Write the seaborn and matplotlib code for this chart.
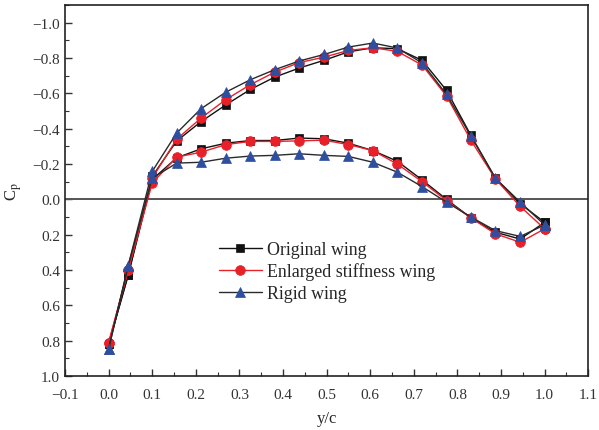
import matplotlib
matplotlib.use("Agg")
import matplotlib.pyplot as plt
from matplotlib.ticker import MultipleLocator, FuncFormatter
import seaborn as sns
import pandas as pd

# ---- data ----
wings = ["Original wing", "Enlarged stiffness wing", "Rigid wing"]
x_le = [0.0, 0.045]
x_surf = [0.1, 0.156, 0.212, 0.269, 0.325, 0.381, 0.437, 0.494, 0.55, 0.606,
          0.662, 0.719, 0.775, 0.831, 0.887, 0.944, 1.0]

orig_le = [0.82, 0.428]
orig_upper = [-0.13, -0.33, -0.44, -0.535, -0.622, -0.692, -0.743, -0.787, -0.835,
              -0.858, -0.853, -0.787, -0.617, -0.362, -0.12, 0.025, 0.13]
orig_lower = [-0.112, -0.235, -0.286, -0.318, -0.333, -0.333, -0.347, -0.343, -0.318,
              -0.276, -0.216, -0.11, 0.0, 0.105, 0.186, 0.225, 0.13]

enl_le = [0.813, 0.40]
enl_upper = [-0.12, -0.34, -0.46, -0.565, -0.649, -0.72, -0.774, -0.805, -0.843,
             -0.858, -0.838, -0.76, -0.585, -0.334, -0.116, 0.04, 0.167]
enl_lower = [-0.092, -0.239, -0.267, -0.31, -0.328, -0.328, -0.331, -0.335, -0.31,
             -0.276, -0.2, -0.1, 0.007, 0.105, 0.195, 0.243, 0.167]

rig_le = [0.847, 0.375]
rig_upper = [-0.158, -0.375, -0.513, -0.607, -0.677, -0.734, -0.783, -0.82, -0.862,
             -0.885, -0.857, -0.772, -0.594, -0.358, -0.12, 0.016, 0.145]
rig_lower = [-0.12, -0.205, -0.21, -0.233, -0.245, -0.249, -0.258, -0.249, -0.243,
             -0.21, -0.154, -0.072, 0.016, 0.1, 0.177, 0.21, 0.145]

xticks = [-0.1, 0.0, 0.1, 0.2, 0.3, 0.4, 0.5, 0.6, 0.7, 0.8, 0.9, 1.0, 1.1]
yticks = [-1.0, -0.8, -0.6, -0.4, -0.2, 0.0, 0.2, 0.4, 0.6, 0.8, 1.0]

series = {
    "Original wing": (orig_le, orig_upper, orig_lower),
    "Enlarged stiffness wing": (enl_le, enl_upper, enl_lower),
    "Rigid wing": (rig_le, rig_upper, rig_lower),
}
rows = []
for w in wings:
    le, up, lo = series[w]
    for surf, vals in (("upper", up), ("lower", lo)):
        for xv, cv in zip(x_le + x_surf, le + vals):
            rows.append({"wing": w, "surface": surf, "x": xv, "cp": cv})
df = pd.DataFrame(rows)

styles = {
    "Original wing": dict(color="#111111", marker="s", mfc="#111111", mec="#111111", ms=6.0),
    "Enlarged stiffness wing": dict(color="#e8202a", marker="o", mfc="#e8202a", mec="#e8202a", ms=7.0),
    "Rigid wing": dict(color="#2a2a2a", marker="^", mfc="#2e4f9f", mec="#2e4f9f", ms=7.5),
}

sns.set_theme(style="white")
plt.rcParams["font.family"] = ["Liberation Serif", "DejaVu Serif"]
plt.rcParams["mathtext.fontset"] = "stix"

fig = plt.figure(figsize=(5.99, 4.31), dpi=100)
ax = fig.add_axes([0.1085, 0.1253, 0.8735, 0.8607])

ax.axhline(0, color="#555555", lw=1.4, zorder=1)

for w in wings:
    st = styles[w]
    for i, surf in enumerate(["upper", "lower"]):
        sub = df[(df.wing == w) & (df.surface == surf)]
        sns.lineplot(data=sub, x="x", y="cp", ax=ax, sort=False, estimator=None,
                     color=st["color"], marker=st["marker"], markersize=st["ms"],
                     markerfacecolor=st["mfc"], markeredgecolor=st["mec"],
                     markeredgewidth=0.5, linewidth=1.0,
                     label=w if i == 0 else None, legend=False, zorder=3)

def fmt(v, pos):
    s = f"{abs(v):.1f}"
    return ("\u2212" + s) if v < -1e-9 else s

ax.set_xlim(-0.1, 1.1)
ax.set_ylim(1.0, -1.1)
ax.set_xticks(xticks)
ax.set_yticks(yticks)
ax.xaxis.set_minor_locator(MultipleLocator(0.05))
ax.yaxis.set_minor_locator(MultipleLocator(0.1))
ax.xaxis.set_major_formatter(FuncFormatter(fmt))
ax.yaxis.set_major_formatter(FuncFormatter(fmt))
ax.tick_params(which="both", direction="in", bottom=True, left=True, top=False, right=False,
               labelsize=11, labelcolor="#333333", color="#333333")
ax.tick_params(which="major", length=5, width=1.0)
ax.tick_params(which="minor", length=3, width=0.8)
ax.tick_params(axis="x", which="major", pad=9)
for s in ax.spines.values():
    s.set_color("#222222")
    s.set_linewidth(1.2)

ax.set_xlabel("y/c", fontsize=12, labelpad=6)
ax.set_ylabel(r"C$_\mathrm{p}$", fontsize=12, labelpad=6)

ax.legend(loc="upper left", bbox_to_anchor=(0.28, 0.383), frameon=False,
          fontsize=12.9, handlelength=2.4, handletextpad=0.3, labelspacing=0.25,
          borderaxespad=0)

fig.savefig("out.png", dpi=100)
